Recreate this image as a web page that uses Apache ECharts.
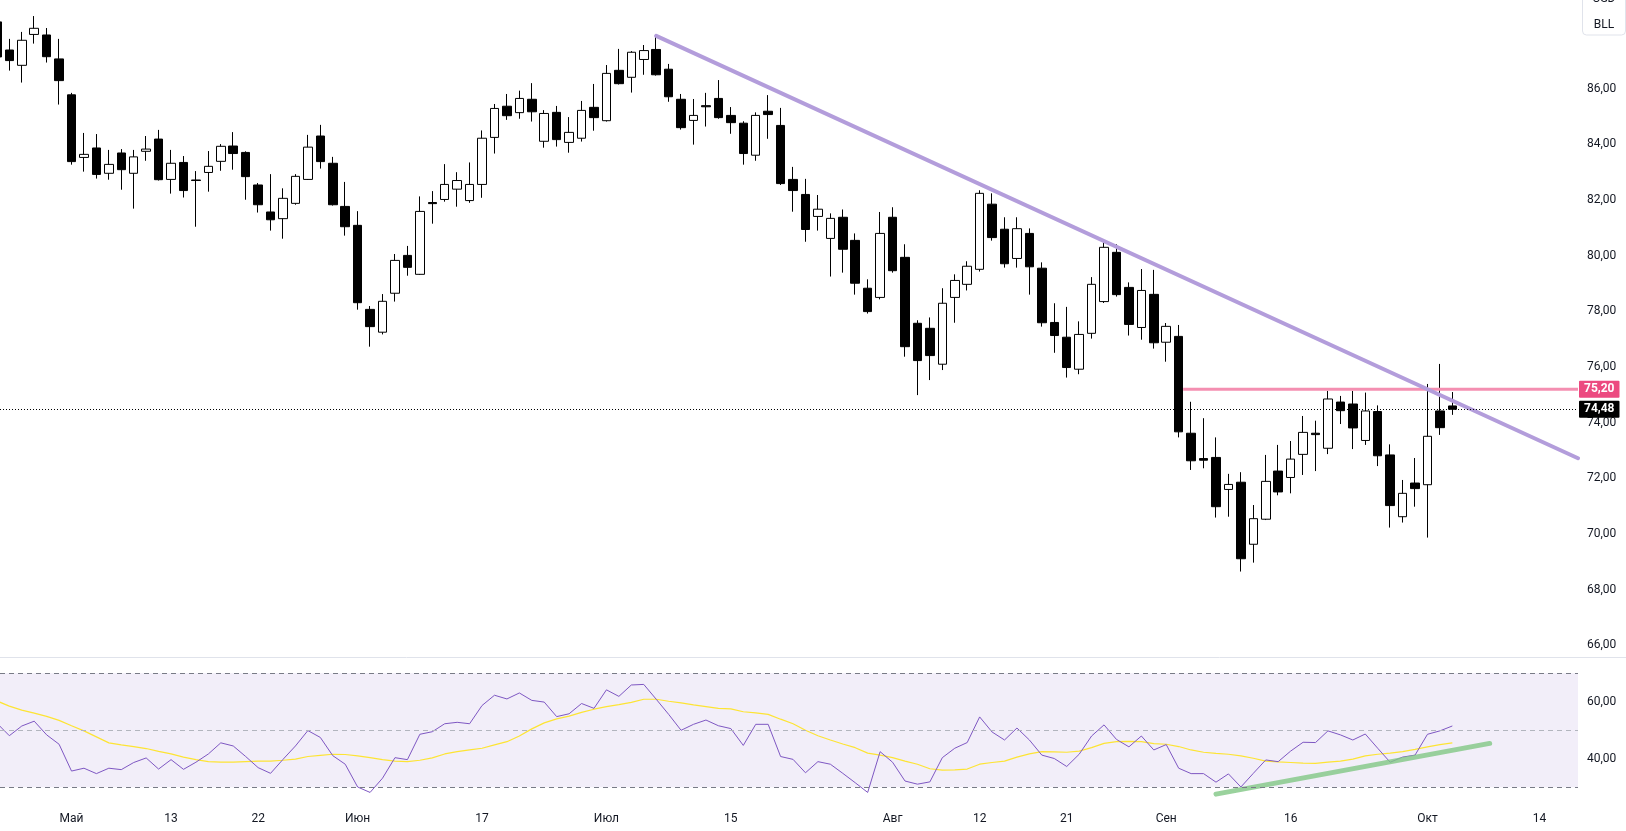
<!DOCTYPE html>
<html><head><meta charset="utf-8">
<script src="https://cdn.jsdelivr.net/npm/echarts@6/dist/echarts.min.js"></script>
<style>html,body{margin:0;padding:0;background:#fff;overflow:hidden}#c{width:1626px;height:831px}</style>
</head><body><div id="c"></div>
<script>
// ---------- DATA (daily bars, first bar = 2024-04-23) ----------
const opens  = [88.40,87.39,86.84,87.95,87.93,87.07,85.78,83.53,83.87,82.96,83.69,82.96,83.75,84.19,82.74,83.35,82.72,82.99,83.39,83.94,83.71,82.54,81.57,81.33,81.88,82.74,84.30,83.32,81.77,81.09,78.07,77.25,78.65,80.01,79.33,81.91,82.02,82.39,81.98,82.56,84.25,85.37,85.14,85.62,84.11,85.15,84.07,84.22,85.33,84.85,86.66,86.41,87.05,87.41,86.70,85.62,84.86,85.39,85.65,85.04,84.76,83.61,85.19,84.68,82.74,82.20,81.41,80.62,81.38,80.55,78.83,78.50,81.38,79.94,77.57,77.39,76.10,78.50,78.97,79.51,81.85,80.95,79.90,80.80,79.55,77.60,77.07,75.92,77.21,78.35,80.12,78.86,77.42,78.61,76.89,77.10,73.62,72.71,72.75,71.60,71.86,69.63,70.53,72.26,72.03,72.86,73.62,73.08,74.74,74.67,73.36,74.40,72.84,70.62,71.83,71.77,74.42,74.60];
const highs  = [88.60,87.79,88.04,88.61,88.18,87.79,85.85,84.41,84.37,83.80,83.83,83.80,84.30,84.52,83.80,83.58,83.04,83.76,84.01,84.44,83.75,82.61,82.93,82.42,82.93,84.34,84.70,83.55,82.65,81.60,78.19,78.62,80.06,80.35,82.13,82.32,83.29,83.00,83.35,84.50,85.45,85.81,85.93,86.20,85.23,85.38,84.98,85.56,86.17,86.85,87.43,87.35,87.57,87.93,86.89,85.81,85.63,85.85,86.31,85.34,84.83,85.15,85.77,85.31,83.19,82.76,82.18,81.52,81.66,80.80,79.15,81.57,81.74,80.41,77.68,77.78,78.83,79.33,79.80,82.35,82.24,81.38,81.38,80.98,79.76,78.29,78.16,77.64,79.23,80.49,80.41,79.04,79.52,79.49,77.58,77.51,74.75,74.16,73.47,72.16,72.22,71.04,72.84,73.20,73.34,74.24,74.07,75.14,74.96,75.14,75.08,74.62,73.22,71.94,72.73,75.39,76.11,75.10];
const lows   = [86.90,86.65,86.22,87.62,86.94,85.43,83.27,83.02,82.77,82.73,82.37,81.69,83.41,82.70,82.23,82.09,81.04,82.30,83.05,83.09,82.01,81.55,80.90,80.61,81.83,82.72,83.13,81.80,80.72,78.06,76.73,77.17,78.35,79.28,79.31,81.15,81.94,81.76,81.90,82.08,83.67,84.88,84.92,84.82,83.88,83.92,83.70,84.10,84.49,84.82,86.15,85.86,86.50,86.47,85.53,84.53,83.99,84.64,84.92,84.38,83.27,83.41,84.20,82.54,81.58,80.50,80.90,79.25,79.39,78.60,77.92,78.43,79.39,76.37,74.99,75.53,75.89,77.59,78.75,79.43,80.54,79.57,79.57,78.60,77.45,76.51,75.62,75.74,77.02,78.30,78.53,77.13,76.98,76.66,76.19,73.47,72.30,72.36,70.59,70.62,68.65,68.97,70.50,71.39,71.46,72.12,72.26,72.87,73.95,73.05,73.20,72.44,70.23,70.41,70.98,69.87,73.56,74.28];
const closes = [87.14,87.01,87.74,88.17,87.15,86.29,83.38,83.64,82.92,83.28,83.09,83.55,83.83,82.73,83.32,82.34,82.70,83.21,83.93,83.67,82.84,81.83,81.29,82.06,82.85,83.90,83.38,81.83,81.04,78.31,77.45,78.36,79.83,79.58,81.59,81.87,82.56,82.70,82.56,84.22,85.29,85.03,85.65,85.17,85.11,84.17,84.43,85.22,84.96,86.55,86.18,87.31,87.37,86.50,85.71,84.60,85.04,85.35,84.96,84.78,83.67,85.04,85.07,82.59,82.34,80.94,81.67,81.34,80.23,79.01,77.99,80.80,79.46,76.73,76.23,76.41,78.29,79.11,79.62,82.24,80.65,79.71,80.97,79.60,77.59,77.13,75.98,77.17,78.97,80.30,78.60,77.53,78.75,76.87,77.46,73.67,72.63,72.65,70.98,71.78,69.11,70.55,71.89,71.51,72.69,73.65,73.57,74.85,74.43,73.81,74.42,72.81,71.02,71.46,71.63,73.51,73.82,74.48];
const rsiValues = [52.5,48.1,51.5,53.2,48.4,45.1,35.7,36.7,34.8,36.7,36.2,38.7,40.3,36.4,39.7,36.3,38.8,41.7,45.6,44.5,40.8,36.9,34.9,39.8,44.5,49.9,47.5,41.1,38.1,30.1,28.2,33.2,40.4,39.7,48.6,49.5,52.3,52.8,52.3,58.7,62.3,61.0,63.1,60.5,59.9,54.8,55.8,59.4,57.7,64.2,61.9,65.9,66.1,60.9,55.6,50.0,52.1,53.6,51.6,50.6,44.7,52.1,52.1,40.8,39.8,35.1,39.0,38.1,34.9,31.6,28.2,42.5,38.8,32.2,31.1,31.9,40.4,43.7,45.7,54.7,49.4,46.6,50.8,46.6,41.3,40.1,37.3,41.6,48.0,51.9,46.8,44.2,48.0,43.1,45.0,36.7,34.8,34.8,31.8,34.7,30.1,34.9,39.6,39.0,42.7,45.8,45.7,49.8,48.4,46.6,48.7,43.7,38.8,40.6,41.3,48.6,49.8,51.52];
const rsiMAValues = [60.3,58.5,57.1,56.0,54.9,53.5,51.6,49.8,47.7,45.6,44.9,44.3,43.6,42.6,41.7,40.6,39.7,39.0,38.8,38.8,39.0,39.2,39.2,39.5,39.9,40.8,41.2,41.6,41.5,41.0,40.4,39.7,39.2,39.0,39.5,40.3,41.7,42.5,43.1,43.7,44.9,46.0,48.0,50.5,52.6,54.0,55.0,56.3,57.4,58.3,59.0,59.8,60.9,60.9,60.2,59.6,58.9,58.3,57.7,57.5,56.5,56.1,55.6,53.9,52.3,50.0,48.1,46.6,45.2,43.9,42.0,41.3,40.4,39.2,38.1,36.5,36.0,36.1,36.4,38.1,38.7,39.2,40.6,41.7,42.5,42.4,42.3,42.7,43.9,45.4,46.0,46.1,46.0,45.3,45.1,44.3,43.1,42.3,41.9,41.6,41.0,40.2,39.2,38.9,38.7,38.5,38.4,38.8,39.2,39.9,41.0,41.6,42.0,42.5,43.3,44.2,45.0,45.57];
const tickDates = ['2024-05-01','2024-05-13','2024-05-22','2024-06-03','2024-06-17','2024-07-01','2024-07-15','2024-08-01','2024-08-12','2024-08-21','2024-09-02','2024-09-16','2024-10-01','2024-10-14'];
const tickTexts = ['Май','13','22','Июн','17','Июл','15','Авг','12','21','Сен','16','Окт','14'];
const priceTicks = [66,68,70,72,74,76,78,80,82,84,86];
const rsiTicks = [40,60];
const lastPrice = 74.48;
const resistanceLevel = 75.20;
const resistanceFrom = '2024-09-03';
const trendPoints = [['2024-07-05', 87.90], ['2024-10-01', 75.20]];
const rsiTrendPoints = [['2024-09-06', 27.6], ['2024-10-08', 45.4]];
const rsiBands = [70, 50, 30];
const symbolText = ['USD', 'BLL'];

// ---------- build ----------
function weekdays(start, n){
  const out=[]; const d=new Date(start+'T00:00:00Z');
  while(out.length<n){const w=d.getUTCDay(); if(w!==0&&w!==6) out.push(d.toISOString().slice(0,10)); d.setUTCDate(d.getUTCDate()+1);}
  return out;
}
const dates = weekdays('2024-04-23', 130);
const idx = d => dates.indexOf(d);
const X_MIN = 0.25, X_MAX = 127.1;
const tickIdx = tickDates.map(idx);
const fmt = v => v.toFixed(2).replace('.', ',');
const FONT = "'Trebuchet MS', Roboto, sans-serif";
const TXT = '#131722';

const candleData = opens.map((o,i)=>[i, o, closes[i], lows[i], highs[i]]);
const t0 = [idx(trendPoints[0][0]), trendPoints[0][1]];
const t1 = [idx(trendPoints[1][0]), trendPoints[1][1]];
const slope = (t1[1]-t0[1])/(t1[0]-t0[0]);
const trendLine = [t0, [X_MAX, t0[1] + slope*(X_MAX-t0[0])]];
const resLine = [[idx(resistanceFrom)+0.36, resistanceLevel], [X_MAX, resistanceLevel]];
const rsiTrend = rsiTrendPoints.map(p=>[idx(p[0]), p[1]]);

const axisLbl = {color: TXT, fontSize: 12, fontFamily: FONT};
const tagLabel = (text, bg, fg) => ({show:true, position:'end', distance:1, formatter:text, backgroundColor:bg, color:fg,
  fontSize:12, fontWeight:'bold', fontFamily:FONT, padding:[2,5,2,5], lineHeight:13, borderRadius:1});

const chart = echarts.init(document.getElementById('c'), null, {renderer:'canvas'});
chart.setOption({
  animation:false,
  backgroundColor:'#ffffff',
  grid:[{left:0,right:48,top:0,height:656},{left:0,right:48,top:658,height:145}],
  xAxis:[
    {gridIndex:0,type:'value',min:X_MIN,max:X_MAX,show:false},
    {gridIndex:1,type:'value',min:X_MIN,max:X_MAX,axisLine:{show:false},axisTick:{show:false},splitLine:{show:false},
     axisLabel:Object.assign({customValues:tickIdx, margin:10, formatter:v=>{const j=tickIdx.indexOf(v);return j>=0?tickTexts[j]:'';}}, axisLbl)}
  ],
  yAxis:[
    {gridIndex:0,type:'value',position:'right',min:65.615,max:89.187,axisLine:{show:false},axisTick:{show:false},splitLine:{show:false},
     axisLabel:Object.assign({customValues:priceTicks, margin:9, formatter:fmt}, axisLbl)},
    {gridIndex:1,type:'value',position:'right',min:24.49,max:75.37,axisLine:{show:false},axisTick:{show:false},splitLine:{show:false},
     axisLabel:Object.assign({customValues:rsiTicks, margin:9, formatter:fmt}, axisLbl)}
  ],
  series:[
    {type:'candlestick', xAxisIndex:0, yAxisIndex:0, data:candleData, encode:{x:0,y:[1,2,3,4]}, barWidth:9,
     itemStyle:{color:'#ffffff',color0:'#000000',borderColor:'#000000',borderColor0:'#000000',borderWidth:1},
     markLine:{silent:true, symbol:'none', animation:false,
       data:[{yAxis:lastPrice, lineStyle:{type:[1,2],color:'#000',width:1}, label:tagLabel(fmt(lastPrice),'#000000','#ffffff')}]}},
    {type:'line', xAxisIndex:0, yAxisIndex:0, data:resLine, symbol:'none', silent:true,
     lineStyle:{color:'#f48fb1',width:3},
     endLabel:Object.assign(tagLabel(fmt(resistanceLevel),'#ec4a80','#ffffff'), {distance:1})},
    {type:'line', xAxisIndex:0, yAxisIndex:0, data:trendLine, symbol:'none', silent:true,
     lineStyle:{color:'#b39ddb',width:4,cap:'round'}},
    {type:'line', xAxisIndex:1, yAxisIndex:1, data:rsiMAValues.map((v,i)=>[i,v]), symbol:'none', silent:true,
     lineStyle:{color:'#fde434',width:1.2},
     markArea:{silent:true, itemStyle:{color:'rgba(126,87,194,0.1)'}, data:[[{xAxis:X_MIN,yAxis:rsiBands[2]},{xAxis:X_MAX,yAxis:rsiBands[0]}]]},
     markLine:{silent:true, symbol:'none',
       data:[
        {yAxis:rsiBands[0], lineStyle:{type:[5,4],color:'#787b86',width:1}, label:{show:false}},
        {yAxis:rsiBands[1], lineStyle:{type:[5,4],color:'#b2b5be',width:1}, label:{show:false}},
        {yAxis:rsiBands[2], lineStyle:{type:[5,4],color:'#787b86',width:1}, label:{show:false}},
        {yAxis:rsiMAValues[rsiMAValues.length-1], lineStyle:{opacity:0}, label:tagLabel(fmt(rsiMAValues[rsiMAValues.length-1]),'#ffeb3b',TXT)}
       ]}},
    {type:'line', xAxisIndex:1, yAxisIndex:1, data:rsiValues.map((v,i)=>[i,v]), symbol:'none', silent:true,
     lineStyle:{color:'#7e57c2',width:1},
     markLine:{silent:true, symbol:'none',
       data:[{yAxis:rsiValues[rsiValues.length-1], lineStyle:{opacity:0}, label:tagLabel(fmt(rsiValues[rsiValues.length-1]),'#7e57c2','#ffffff')}]}},
    {type:'line', xAxisIndex:1, yAxisIndex:1, data:rsiTrend, symbol:'none', silent:true,
     lineStyle:{color:'rgba(129,199,132,0.8)',width:5,cap:'round'}}
  ],
  graphic:[
    {type:'line', shape:{x1:0,y1:657.5,x2:1626,y2:657.5}, style:{stroke:'#e0e3eb',lineWidth:1}, silent:true},
    {type:'rect', shape:{x:1582.5,y:-6,width:43,height:41,r:4}, style:{fill:'#ffffff',stroke:'#e0e3eb',lineWidth:1}, silent:true},
    {type:'text', x:1604, y:-1, style:{text:symbolText[0], fill:'#131722', font:'12px '+FONT, textAlign:'center', textVerticalAlign:'middle'}, silent:true},
    {type:'text', x:1604, y:25, style:{text:symbolText[1], fill:'#131722', font:'12px '+FONT, textAlign:'center', textVerticalAlign:'middle'}, silent:true}
  ]
});
</script></body></html>
